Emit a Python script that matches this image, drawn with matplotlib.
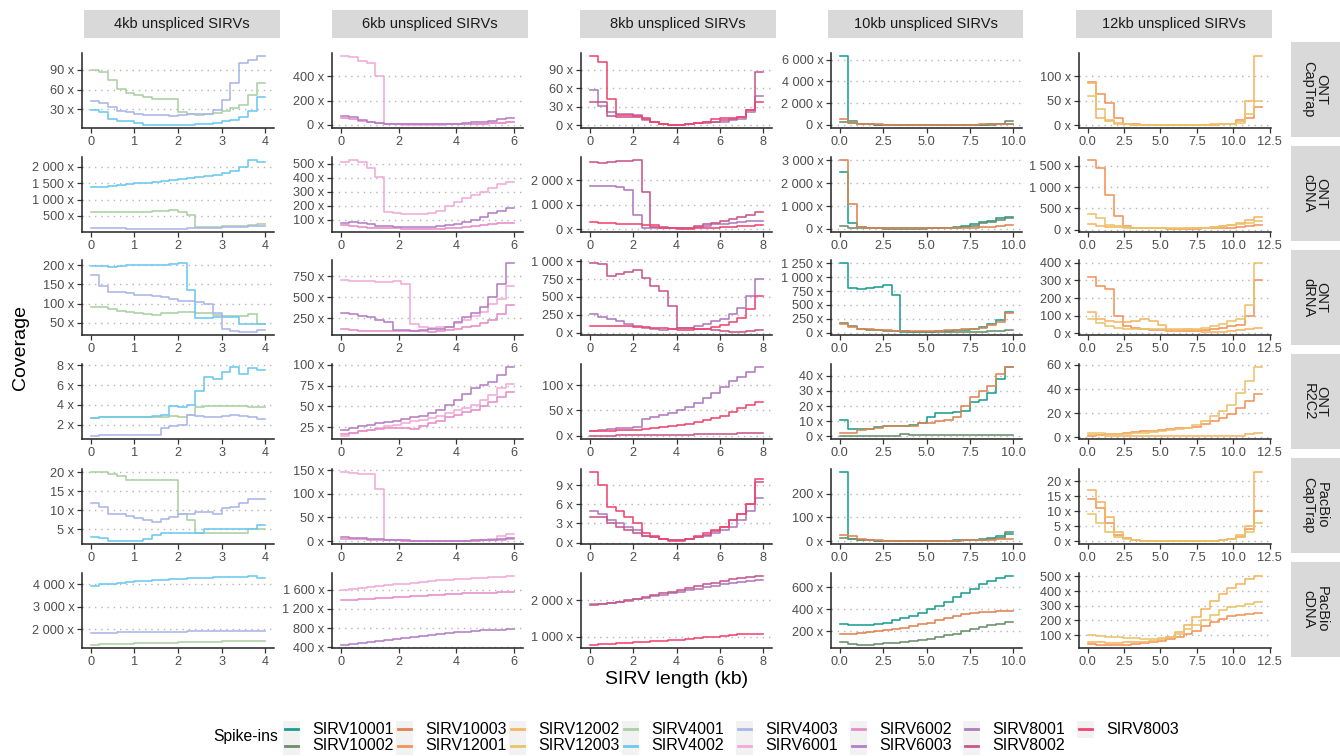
import numpy as np
import matplotlib
matplotlib.use('Agg')
import matplotlib.pyplot as plt
from matplotlib.patches import Rectangle
from matplotlib.lines import Line2D

plt.rcParams['font.family'] = ['Liberation Sans', 'DejaVu Sans']

# ---- data: per-bin coverage (20 bins along each SIRV) ----
GROUPS = ['4kb unspliced SIRVs', '6kb unspliced SIRVs', '8kb unspliced SIRVs',
          '10kb unspliced SIRVs', '12kb unspliced SIRVs']
GROUP_LEN = [4, 6, 8, 10, 12]
GROUP_SPIKES = [['SIRV4001', 'SIRV4002', 'SIRV4003'],
                ['SIRV6001', 'SIRV6002', 'SIRV6003'],
                ['SIRV8001', 'SIRV8002', 'SIRV8003'],
                ['SIRV10001', 'SIRV10002', 'SIRV10003'],
                ['SIRV12001', 'SIRV12002', 'SIRV12003']]
PLATFORMS = ['ONT\nCapTrap', 'ONT\ncDNA', 'ONT\ndRNA', 'ONT\nR2C2', 'PacBio\nCapTrap', 'PacBio\ncDNA']

COLORS = {
    'SIRV10001': '#1b9e8f', 'SIRV10002': '#6b8e6b', 'SIRV10003': '#dd8452',
    'SIRV12001': '#f4925a', 'SIRV12002': '#f7b560', 'SIRV12003': '#e9c46a',
    'SIRV4001': '#a9d0a2', 'SIRV4002': '#6cc8ef', 'SIRV4003': '#aab6e8',
    'SIRV6001': '#f2aad9', 'SIRV6002': '#e68cc8', 'SIRV6003': '#b57ec6',
    'SIRV8001': '#b07abd', 'SIRV8002': '#c9578a', 'SIRV8003': '#f0466f',
}
LEGEND_ORDER = ['SIRV10001', 'SIRV10002', 'SIRV10003', 'SIRV12001', 'SIRV12002',
                'SIRV12003', 'SIRV4001', 'SIRV4002', 'SIRV4003', 'SIRV6001',
                'SIRV6002', 'SIRV6003', 'SIRV8001', 'SIRV8002', 'SIRV8003']

ont_captrap = {
    'SIRV4001': [89, 86, 74, 61, 55, 52, 49, 45, 45, 45, 26, 23, 21, 23, 25, 28, 32, 36, 52, 70],
    'SIRV4002': [29, 26, 16, 13, 13, 9, 7, 7, 7, 7, 7, 7, 8, 8, 10, 12, 14, 18, 27, 48],
    'SIRV4003': [43, 40, 33, 28, 26, 23, 22, 21, 21, 20, 22, 23, 23, 23, 29, 44, 70, 100, 105, 110],
    'SIRV6001': [565, 560, 530, 510, 400, 5, 3, 2, 2, 2, 2, 2, 3, 3, 4, 5, 8, 12, 18, 22],
    'SIRV6002': [60, 50, 35, 22, 12, 8, 5, 4, 3, 3, 3, 3, 4, 5, 6, 8, 10, 14, 18, 25],
    'SIRV6003': [70, 62, 40, 25, 15, 10, 8, 6, 5, 5, 5, 5, 6, 10, 15, 20, 25, 32, 45, 60],
    'SIRV8001': [58, 32, 22, 18, 18, 16, 8, 5, 2, 1, 1, 2, 4, 4, 5, 6, 8, 10, 22, 47],
    'SIRV8002': [37, 37, 15, 14, 14, 13, 10, 5, 2, 1, 1, 2, 3, 5, 6, 8, 10, 14, 25, 86],
    'SIRV8003': [112, 103, 43, 17, 17, 15, 12, 5, 2, 1, 1, 2, 4, 6, 10, 11, 12, 14, 24, 37],
    'SIRV10001': [6300, 300, 40, 20, 15, 10, 10, 10, 10, 10, 10, 10, 10, 10, 10, 12, 15, 20, 30, 60],
    'SIRV10002': [250, 120, 40, 20, 10, 10, 8, 8, 8, 8, 8, 8, 8, 8, 10, 10, 12, 15, 20, 330],
    'SIRV10003': [550, 220, 60, 30, 20, 15, 12, 10, 10, 10, 10, 10, 10, 10, 12, 15, 20, 25, 30, 50],
    'SIRV12001': [88, 63, 45, 15, 3, 2, 1, 1, 1, 1, 1, 1, 1, 1, 1, 2, 2, 10, 15, 37],
    'SIRV12002': [86, 15, 8, 5, 2, 1, 1, 1, 1, 1, 1, 1, 1, 1, 2, 2, 3, 8, 50, 140],
    'SIRV12003': [60, 32, 10, 3, 2, 1, 1, 1, 1, 1, 1, 1, 1, 1, 1, 2, 3, 5, 22, 50],
}
ont_cdna = {
    'SIRV4001': [620, 620, 620, 620, 625, 625, 630, 640, 660, 690, 610, 520, 150, 160, 170, 180, 190, 200, 220, 240],
    'SIRV4002': [1380, 1390, 1420, 1440, 1460, 1490, 1510, 1530, 1560, 1590, 1610, 1640, 1680, 1720, 1760, 1820, 1870, 1980, 2190, 2140],
    'SIRV4003': [130, 130, 125, 120, 115, 115, 115, 115, 115, 115, 115, 120, 125, 130, 140, 150, 160, 170, 180, 185],
    'SIRV6001': [515, 525, 510, 470, 405, 155, 145, 140, 140, 142, 150, 165, 195, 225, 255, 280, 300, 330, 355, 370],
    'SIRV6002': [60, 55, 45, 40, 40, 40, 38, 35, 35, 35, 35, 35, 38, 42, 48, 55, 60, 65, 72, 78],
    'SIRV6003': [75, 80, 75, 65, 55, 52, 50, 48, 45, 45, 48, 52, 58, 70, 85, 100, 120, 145, 165, 180],
    'SIRV8001': [1760, 1760, 1760, 1740, 1600, 570, 50, 40, 40, 40, 50, 70, 100, 150, 200, 230, 260, 300, 320, 340],
    'SIRV8002': [2730, 2700, 2740, 2780, 2790, 2800, 1530, 100, 80, 60, 50, 70, 120, 200, 270, 330, 420, 520, 600, 700],
    'SIRV8003': [280, 270, 240, 220, 210, 200, 190, 180, 60, 40, 30, 30, 40, 60, 70, 90, 110, 130, 150, 190],
    'SIRV10001': [2490, 250, 80, 50, 30, 25, 20, 20, 20, 20, 30, 40, 60, 100, 146, 220, 290, 365, 470, 540],
    'SIRV10002': [150, 60, 40, 30, 20, 15, 15, 15, 15, 15, 20, 25, 30, 50, 80, 130, 250, 290, 395, 480],
    'SIRV10003': [3000, 1080, 75, 50, 30, 20, 20, 20, 20, 20, 20, 20, 25, 30, 40, 60, 80, 100, 130, 175],
    'SIRV12001': [1626, 1453, 825, 314, 80, 50, 40, 30, 30, 25, 25, 25, 25, 30, 30, 40, 50, 60, 80, 100],
    'SIRV12002': [134, 80, 70, 60, 50, 40, 35, 30, 30, 25, 25, 30, 35, 45, 60, 80, 110, 150, 220, 306],
    'SIRV12003': [370, 275, 118, 90, 70, 50, 40, 35, 30, 30, 30, 30, 35, 45, 60, 80, 100, 130, 160, 196],
}
ont_drna = {
    'SIRV4001': [90, 92, 85, 80, 77, 75, 73, 71, 75, 76, 77, 78, 75, 75, 70, 68, 68, 69, 73, 48],
    'SIRV4002': [197, 197, 195, 198, 200, 200, 201, 202, 202, 203, 205, 135, 63, 63, 64, 65, 66, 48, 47, 48],
    'SIRV4003': [175, 145, 130, 130, 128, 123, 122, 120, 118, 113, 108, 106, 104, 100, 75, 35, 28, 27, 27, 30],
    'SIRV6001': [700, 695, 690, 688, 685, 680, 690, 660, 180, 140, 130, 140, 150, 190, 230, 280, 320, 420, 480, 630],
    'SIRV6002': [125, 110, 100, 98, 96, 95, 95, 95, 95, 95, 90, 95, 105, 120, 140, 160, 190, 230, 300, 400],
    'SIRV6003': [310, 300, 280, 260, 230, 200, 110, 105, 100, 110, 120, 125, 150, 200, 260, 310, 380, 500, 660, 900],
    'SIRV8001': [260, 220, 190, 160, 120, 90, 60, 45, 40, 50, 70, 70, 90, 120, 160, 190, 260, 350, 520, 750],
    'SIRV8002': [970, 960, 800, 820, 850, 880, 760, 660, 580, 370, 60, 60, 50, 45, 35, 30, 15, 15, 20, 35],
    'SIRV8003': [90, 90, 90, 90, 90, 80, 75, 70, 60, 55, 35, 40, 45, 50, 80, 110, 150, 200, 330, 520],
    'SIRV10001': [1250, 811, 780, 800, 830, 860, 680, 20, 20, 20, 20, 25, 30, 40, 55, 75, 110, 160, 230, 370],
    'SIRV10002': [170, 120, 60, 45, 40, 35, 30, 25, 20, 20, 20, 20, 20, 20, 20, 20, 20, 25, 30, 40],
    'SIRV10003': [150, 100, 70, 60, 50, 40, 35, 30, 30, 30, 30, 35, 40, 50, 60, 70, 90, 130, 200, 360],
    'SIRV12001': [320, 270, 250, 100, 40, 30, 25, 20, 20, 15, 15, 15, 15, 20, 25, 30, 40, 50, 97, 300],
    'SIRV12002': [120, 80, 70, 65, 65, 70, 80, 70, 45, 20, 20, 25, 20, 10, 10, 10, 15, 20, 25, 30],
    'SIRV12003': [80, 60, 40, 30, 25, 25, 25, 25, 25, 25, 25, 25, 25, 30, 40, 55, 70, 82, 162, 396],
}
ont_r2c2 = {
    'SIRV4001': [2.7, 2.8, 2.8, 2.8, 2.8, 2.8, 2.8, 2.8, 2.8, 2.9, 2.8, 3.0, 3.8, 3.9, 3.9, 3.9, 3.9, 3.9, 3.8, 3.8],
    'SIRV4002': [2.7, 2.8, 2.8, 2.8, 2.8, 2.8, 2.8, 2.9, 3.0, 3.9, 3.8, 4.0, 5.4, 6.8, 6.6, 7.3, 7.8, 7.1, 7.7, 7.5],
    'SIRV4003': [0.9, 1.0, 1.0, 1.0, 1.0, 1.0, 1.0, 1.0, 1.7, 1.9, 2.0, 3.0, 2.9, 2.8, 2.8, 2.9, 3.0, 2.9, 2.8, 2.6],
    'SIRV6001': [15, 18, 20, 22, 24, 26, 28, 30, 32, 34, 36, 38, 42, 46, 48, 52, 58, 64, 72, 77],
    'SIRV6002': [17, 18, 20, 22, 23, 24, 24, 24, 23, 26, 30, 33, 37, 40, 43, 46, 50, 55, 62, 68],
    'SIRV6003': [22, 24, 26, 28, 30, 31, 33, 35, 37, 39, 42, 46, 52, 58, 65, 72, 76, 80, 88, 97],
    'SIRV8001': [10, 12, 14, 15, 16, 18, 33, 38, 42, 46, 50, 56, 64, 74, 85, 97, 108, 117, 126, 135],
    'SIRV8002': [0.5, 0.5, 0.6, 0.7, 0.8, 0.9, 1.0, 1.2, 1.4, 1.7, 2.0, 2.4, 2.8, 3.2, 3.6, 4.0, 4.4, 4.8, 5.1, 5.4],
    'SIRV8003': [9, 9, 10, 11, 11, 12, 14, 16, 18, 19, 21, 24, 27, 31, 35, 40, 48, 54, 61, 66],
    'SIRV10001': [10.5, 4.8, 4.5, 5, 6, 6.5, 7, 7, 7.5, 8.5, 13, 15.4, 15.4, 16, 17, 23, 24, 28.5, 38, 45.7],
    'SIRV10002': [0.3, 0.3, 0.3, 0.3, 0.3, 0.3, 0.3, 1.2, 0.5, 0.5, 0.5, 0.5, 0.5, 0.5, 0.5, 0.5, 0.5, 0.5, 0.8, 1.0],
    'SIRV10003': [2, 2, 4, 5, 5.5, 6.5, 6.5, 7, 7, 8.5, 9, 10, 11, 13, 20, 26, 30, 33, 41, 45.7],
    'SIRV12001': [1.5, 2, 2.5, 3, 4, 4.5, 5, 5.5, 6, 7, 7.5, 8, 9, 11, 14, 16, 19, 24, 30, 36],
    'SIRV12002': [2, 2, 1.5, 1.5, 1.5, 1.5, 1.5, 1.5, 1.5, 1.5, 1.5, 1.5, 1.5, 1.5, 1.5, 1.5, 1.5, 1.5, 2.5, 4],
    'SIRV12003': [4, 4, 3, 3, 3, 3.5, 4, 4.5, 5, 6, 7, 8, 10, 14, 18, 22, 27, 37, 47, 58],
}
pacbio_captrap = {
    'SIRV4001': [20, 20, 19.5, 19, 18, 18, 18, 18, 18, 18, 9, 7.5, 4, 4, 4, 4, 4, 4, 5, 5],
    'SIRV4002': [3, 2.8, 2, 2, 2, 2, 2.5, 3.5, 4, 4, 4, 4, 4, 5, 5, 5, 5, 5, 5, 6],
    'SIRV4003': [12, 11, 9, 9, 8.5, 8, 7.5, 7, 7.8, 8.2, 9, 9, 9.5, 9.5, 9, 10.5, 11, 12, 13, 13],
    'SIRV6001': [145, 143, 142, 142, 110, 3, 2, 1, 1, 1, 1, 1, 1, 1, 1, 1, 2, 5, 10, 15],
    'SIRV6002': [5, 5, 4, 3, 2, 2, 1.5, 1, 1, 1, 1, 1, 1, 1, 1, 1, 1.5, 2, 3, 5],
    'SIRV6003': [8, 7, 6, 5, 4, 3, 2, 1.5, 1, 1, 1, 1, 1, 1, 1, 1.5, 2, 3, 5, 7],
    'SIRV8001': [5, 4.5, 3.5, 3, 2.5, 2, 1, 0.8, 0.5, 0.4, 0.4, 0.5, 0.8, 1, 1.5, 2, 2.5, 3.5, 5, 7],
    'SIRV8002': [4, 4, 3, 2.5, 2, 1.5, 1, 0.8, 0.5, 0.4, 0.4, 0.5, 0.8, 1.2, 1.8, 2.5, 3.5, 4.5, 6, 9.5],
    'SIRV8003': [11, 9, 5.5, 5, 4, 3, 1.5, 1, 0.5, 0.3, 0.3, 0.5, 1, 1.5, 2, 2.5, 3.5, 4.5, 6, 10],
    'SIRV10001': [290, 10, 5, 3, 2, 2, 2, 2, 2, 2, 2, 2, 2, 3, 4, 5, 8, 12, 20, 30],
    'SIRV10002': [15, 8, 4, 3, 2, 2, 2, 2, 2, 2, 2, 2, 2, 2, 3, 4, 6, 8, 12, 40],
    'SIRV10003': [25, 20, 8, 4, 3, 2, 2, 2, 2, 2, 2, 2, 2, 2, 3, 4, 5, 6, 8, 10],
    'SIRV12001': [14, 11, 6, 2, 1, 0.5, 0.3, 0.3, 0.3, 0.3, 0.3, 0.3, 0.3, 0.3, 0.3, 0.5, 0.8, 1.5, 4, 10],
    'SIRV12002': [17, 13, 8, 3, 1, 0.5, 0.3, 0.3, 0.3, 0.3, 0.3, 0.3, 0.3, 0.3, 0.3, 0.5, 0.8, 2, 5, 23],
    'SIRV12003': [9, 6, 3, 1.5, 0.8, 0.5, 0.3, 0.3, 0.3, 0.3, 0.3, 0.3, 0.3, 0.3, 0.3, 0.5, 0.8, 1.5, 3, 6],
}
pacbio_cdna = {
    'SIRV4001': [1310, 1320, 1330, 1340, 1350, 1360, 1370, 1380, 1390, 1400, 1410, 1420, 1430, 1440, 1445, 1450, 1460, 1465, 1470, 1470],
    'SIRV4002': [3940, 4000, 4030, 4070, 4100, 4130, 4160, 4190, 4210, 4230, 4250, 4270, 4290, 4300, 4310, 4320, 4330, 4340, 4350, 4290],
    'SIRV4003': [1824, 1830, 1840, 1850, 1855, 1860, 1870, 1875, 1880, 1885, 1890, 1895, 1900, 1900, 1905, 1910, 1910, 1915, 1920, 1926],
    'SIRV6001': [1590, 1610, 1630, 1650, 1670, 1690, 1710, 1725, 1740, 1760, 1775, 1790, 1805, 1815, 1825, 1835, 1845, 1855, 1865, 1874],
    'SIRV6002': [1380, 1390, 1400, 1410, 1420, 1430, 1440, 1450, 1460, 1470, 1480, 1490, 1500, 1510, 1520, 1530, 1535, 1540, 1545, 1550],
    'SIRV6003': [460, 480, 500, 520, 540, 560, 580, 600, 620, 640, 660, 680, 700, 715, 730, 745, 755, 765, 772, 777],
    'SIRV8001': [1900, 1910, 1930, 1960, 1990, 2030, 2070, 2110, 2150, 2200, 2240, 2280, 2320, 2360, 2400, 2440, 2480, 2510, 2540, 2560],
    'SIRV8002': [1880, 1900, 1930, 1960, 2000, 2040, 2090, 2140, 2190, 2240, 2290, 2340, 2390, 2440, 2490, 2540, 2580, 2620, 2650, 2660],
    'SIRV8003': [780, 790, 800, 815, 830, 845, 860, 875, 890, 905, 920, 940, 960, 980, 1000, 1020, 1040, 1060, 1070, 1080],
    'SIRV10001': [270, 255, 255, 260, 270, 280, 300, 320, 340, 370, 400, 430, 470, 510, 550, 590, 630, 660, 690, 700],
    'SIRV10002': [100, 85, 80, 80, 85, 90, 95, 100, 110, 120, 135, 150, 165, 180, 200, 220, 240, 255, 270, 285],
    'SIRV10003': [180, 180, 185, 190, 200, 210, 220, 235, 250, 265, 280, 300, 320, 340, 355, 365, 375, 380, 385, 385],
    'SIRV12001': [40, 35, 35, 35, 35, 40, 45, 50, 60, 70, 90, 110, 130, 160, 190, 210, 230, 240, 245, 250],
    'SIRV12002': [50, 50, 45, 45, 50, 50, 55, 60, 70, 90, 120, 170, 220, 280, 330, 380, 420, 450, 480, 500],
    'SIRV12003': [100, 95, 90, 85, 80, 80, 75, 75, 80, 90, 110, 140, 170, 200, 240, 270, 290, 300, 315, 325],
}
ROWS = [ont_captrap, ont_cdna, ont_drna, ont_r2c2, pacbio_captrap, pacbio_cdna]

# y breaks used in each panel (row by row, one list per length group)
YBREAKS = [
    [[30, 60, 90], [0, 200, 400], [0, 30, 60, 90], [0, 2000, 4000, 6000], [0, 50, 100]],
    [[500, 1000, 1500, 2000], [100, 200, 300, 400, 500], [0, 1000, 2000], [0, 1000, 2000, 3000], [0, 500, 1000, 1500]],
    [[50, 100, 150, 200], [250, 500, 750], [0, 250, 500, 750, 1000], [0, 250, 500, 750, 1000, 1250], [0, 100, 200, 300, 400]],
    [[2, 4, 6, 8], [25, 50, 75, 100], [0, 50, 100], [0, 10, 20, 30, 40], [0, 20, 40, 60]],
    [[5, 10, 15, 20], [0, 50, 100, 150], [0, 3, 6, 9], [0, 100, 200], [0, 5, 10, 15, 20]],
    [[2000, 3000, 4000], [400, 800, 1200, 1600], [1000, 2000], [200, 400, 600], [100, 200, 300, 400, 500]],
]
XBREAKS = [[0, 1, 2, 3, 4], [0, 2, 4, 6], [0, 2, 4, 6, 8],
           [0, 2.5, 5, 7.5, 10], [0, 2.5, 5, 7.5, 10, 12.5]]

# ---- layout (pixel geometry of the ggplot facet grid) ----
W, H = 1340, 756
def box(x0, y0, x1, y1):
    return [x0 / W, 1 - y1 / H, (x1 - x0) / W, (y1 - y0) / H]

COL_L = [82, 332, 581, 831, 1079]
COL_R = [274, 523, 772, 1022, 1271]
STRIP_L = [84, 332, 580, 828, 1076]
STRIP_R = [280, 528, 776, 1023, 1272]
ROW_T = [53, 157, 260, 364, 469, 573]
PANEL_H = 75

fig = plt.figure(figsize=(W / 100, H / 100), dpi=100)

def fmt_cov(v):
    return f'{int(v):,}'.replace(',', ' ') + ' x'

for r, rowdata in enumerate(ROWS):
    for c in range(5):
        ax = fig.add_axes(box(COL_L[c], ROW_T[r], COL_R[c], ROW_T[r] + PANEL_H))
        L = GROUP_LEN[c]
        edges = np.linspace(0, L, 21)
        allv = []
        for s in GROUP_SPIKES[c]:
            vals = rowdata[s]
            allv += vals
            ax.step(edges, vals + [vals[-1]], where='post', color=COLORS[s], lw=1.15)
        lo, hi = min(allv), max(allv)
        pad = 0.05 * (hi - lo)
        ax.set_ylim(lo - pad, hi + pad)
        ax.set_xlim(-0.05 * L, 1.05 * L)
        yt = [t for t in YBREAKS[r][c] if lo - pad <= t <= hi + pad]
        ax.set_yticks(yt)
        ax.set_yticklabels([fmt_cov(t) for t in yt])
        ax.set_xticks(XBREAKS[c])
        if c >= 3:
            ax.set_xticklabels([f'{t:.1f}' for t in XBREAKS[c]])
        else:
            ax.set_xticklabels([f'{t:g}' for t in XBREAKS[c]])
        ax.yaxis.grid(True, linestyle=(0, (1, 3.5)), color='#b5b5b5', lw=1.0)
        ax.set_axisbelow(True)
        for sp in ['top', 'right']:
            ax.spines[sp].set_visible(False)
        for sp in ['left', 'bottom']:
            ax.spines[sp].set_color('#222222')
            ax.spines[sp].set_linewidth(1.1)
        ax.tick_params(axis='both', labelsize=9.2, labelcolor='#4d4d4d', color='#333333',
                       length=3.5, width=0.9, pad=2)
        ax.set_facecolor('none')

# column strips
for c in range(5):
    fig.patches.append(Rectangle((STRIP_L[c] / W, 1 - 38 / H), (STRIP_R[c] - STRIP_L[c]) / W, 28 / H,
                                 transform=fig.transFigure, facecolor='#d9d9d9', edgecolor='none'))
    fig.text((STRIP_L[c] + STRIP_R[c]) / 2 / W, 1 - 24 / H, GROUPS[c], ha='center', va='center',
             fontsize=10.5, color='#1a1a1a')
# row strips
for r in range(6):
    top = 42 + 104 * r
    fig.patches.append(Rectangle((1291 / W, 1 - (top + 95) / H), 49 / W, 95 / H,
                                 transform=fig.transFigure, facecolor='#d9d9d9', edgecolor='none'))
    fig.text(1315 / W, 1 - (top + 47.5) / H, PLATFORMS[r], ha='center', va='center',
             rotation=-90, fontsize=10.5, color='#1a1a1a', linespacing=0.95)

fig.text(21 / W, 1 - 348 / H, 'Coverage', rotation=90, ha='center', va='center', fontsize=14)
fig.text(677 / W, 1 - 680 / H, 'SIRV length (kb)', ha='center', va='center', fontsize=14)

# legend (two rows, filled column-wise)
fig.text(213 / W, 1 - 737 / H, 'Spike-ins', ha='left', va='center', fontsize=11.3)
TEXT_X = [312, 425, 538, 651, 765, 879, 992, 1106]
ROW_Y = [729, 746]
for i, s in enumerate(LEGEND_ORDER):
    col, row = i // 2, i % 2
    tx, ty = TEXT_X[col], ROW_Y[row]
    fig.patches.append(Rectangle(((tx - 29) / W, 1 - (ty + 8.5) / H), 17 / W, 17 / H,
                                 transform=fig.transFigure, facecolor='#f2f2f2', edgecolor='none'))
    fig.lines.append(Line2D([(tx - 27) / W, (tx - 14) / W], [1 - ty / H, 1 - ty / H],
                            transform=fig.transFigure, color=COLORS[s], lw=2))
    fig.text(tx / W, 1 - ty / H, s, ha='left', va='center', fontsize=11.5)

fig.savefig('out.png', dpi=100)
